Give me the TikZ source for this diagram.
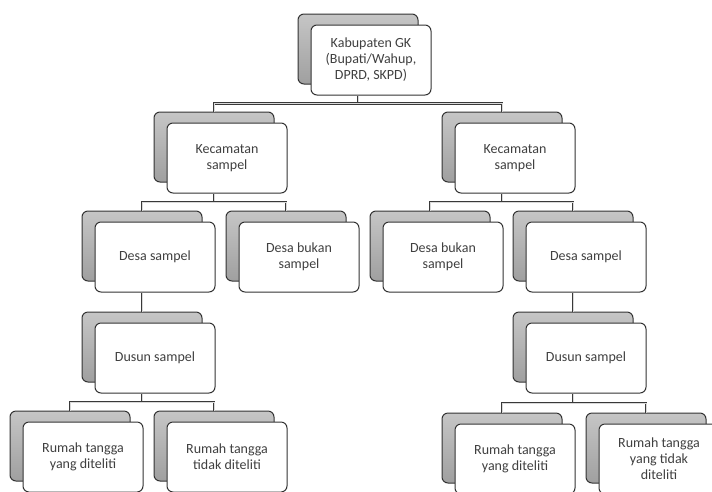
\documentclass[tikz,border=0pt]{standalone}
\usepackage{fontspec}
\setmainfont{Carlito}
\usetikzlibrary{positioning, calc}

\tikzset{
    backbox/.style={draw=black!80, line width=1pt, rounded corners=6pt,
        top color=gray!45, bottom color=gray!75,
        minimum width=120pt, minimum height=70pt, inner sep=0pt},
    frontbox/.style={draw=black!80, line width=1pt, rounded corners=6pt, fill=white,
        minimum width=120pt, minimum height=70pt, inner sep=2pt, align=center,
        text=black!75, font=\fontsize{14}{16}\selectfont},
    conn/.style={draw=gray!45!black, line width=2.4pt,
        postaction={draw=gray!30, line width=0.9pt}}
}

\begin{document}
\begin{tikzpicture}[x=1pt, y=-1pt]
    \useasboundingbox (0,0) rectangle (712,491);

    % Boxes: back layer, then front layer
    \foreach \name/\x/\y/\txt in {
        kab/358/49/{Kabupaten GK\\(Bupati/Wahup,\\DPRD, SKPD)},
        keca/214/147/{Kecamatan\\sampel},
        kecb/502/147/{Kecamatan\\sampel},
        desaa/142/246/{Desa sampel},
        desab/286/246/{Desa bukan\\sampel},
        desac/430/246/{Desa bukan\\sampel},
        desad/573/246/{Desa sampel},
        dusa/142/347/{Dusun sampel},
        dusb/573/347/{Dusun sampel},
        ruma/70/446/{Rumah tangga\\yang diteliti},
        rumb/214/446/{Rumah tangga\\tidak diteliti},
        rumc/502/448/{Rumah tangga\\yang diteliti},
        rumd/646/448/{Rumah tangga\\yang tidak\\diteliti}} {
        \node[backbox] (b\name) at (\x,\y) {};
        \node[frontbox] (\name) at (\x+13,\y+11) {\txt};
    }

    % Tree connectors
    \foreach \p/\c/\d in {kab/keca/kecb, keca/desaa/desab, kecb/desac/desad,
                          dusa/ruma/rumb, dusb/rumc/rumd} {
        \coordinate (m\p) at ($(\p.south)!0.5!(b\c.north)$);
        \draw[conn] (b\p |- \p.south) -- (b\p |- m\p);
        \draw[conn] (b\c.north) -- (b\c |- m\p) -- (b\d |- m\p) -- (b\d.north);
    }

    % Desa sampel -> Dusun sampel
    \draw[conn] (bdesaa |- desaa.south) -- (bdusa.north);
    \draw[conn] (bdesad |- desad.south) -- (bdusb.north);
\end{tikzpicture}
\end{document}
